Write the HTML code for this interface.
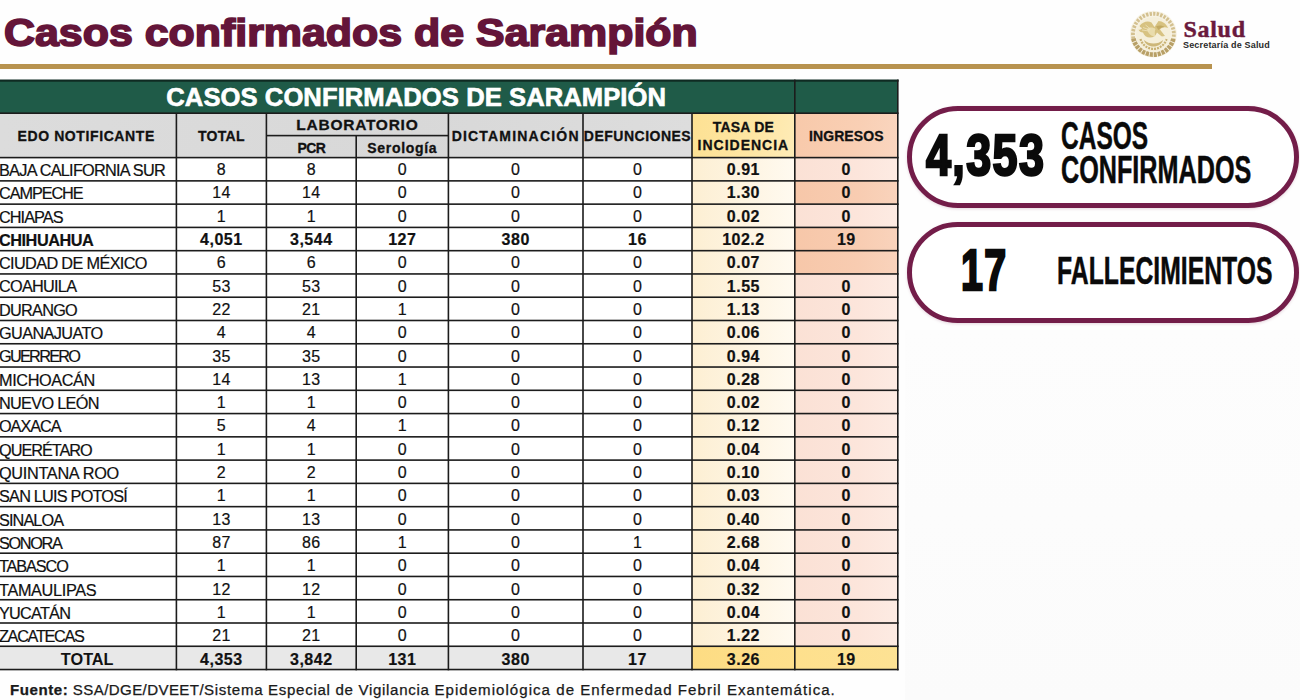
<!DOCTYPE html><html><head><meta charset="utf-8"><title>Casos confirmados de Sarampión</title><style>

html,body{margin:0;padding:0;}
body{width:1300px;height:700px;position:relative;overflow:hidden;background:#fefefe;font-family:"Liberation Sans",sans-serif;color:#111;}
.abs{position:absolute;}
.t{position:absolute;white-space:nowrap;line-height:1;}
.ln{position:absolute;background:#1c1c1c;}
.c{position:absolute;display:flex;align-items:center;justify-content:center;white-space:nowrap;line-height:1;}

</style></head><body>
<div class="abs" style="left:905px;top:330px;width:395px;height:370px;background:linear-gradient(180deg,#fdfdfd,#fbfbfb);"></div>
<div class="t" style="left:4px;top:12.5px;font-size:39px;font-weight:bold;color:#641539;letter-spacing:0px;transform-origin:0 0;transform:scaleX(1.1);-webkit-text-stroke:1.7px #641539;">Casos confirmados de Sarampión</div>
<div class="abs" style="left:0;top:64px;width:1212px;height:4.8px;background:#b8934f;"></div>
<svg class="abs" style="left:1128px;top:9px" width="52" height="52" viewBox="0 0 52 52">
<circle cx="25.4" cy="25.2" r="23.4" fill="#f7f2e3"/>
<path d="M5.400 29.500A20.460 20.460 0 1 1 45.400 29.500" fill="none" stroke="#d3c08f" stroke-width="3.800" stroke-dasharray="2.300 1.300"/>
<path d="M5.400 29.500A20.460 20.460 0 0 0 45.400 29.500" fill="none" stroke="#b8a067" stroke-width="4.600" stroke-dasharray="3.100 0.900"/>
<circle cx="25.400" cy="25.200" r="17.200" fill="#f5efda"/>
<path d="M12.500 30a13.500 13.500 0 0 0 26 0" fill="none" stroke="#c8b173" stroke-width="2.200" stroke-dasharray="2 1"/>
<path d="M11.500 17c3-4 8-5.500 12-3.500l3 4.500l4-6c4 0 8 3 9.500 7c-3-1.500-6-1-8 1.500l5 6.500l-3.500 0.500l-4.500-4c-1 3-3.500 5-7 5c-3.500 0-6-2-7-5c-2 0-4-1-4.500-3c1.500 0.500 3 0 3.500-1.500c-1.500-0.500-2.500-1.500-2.500-2.500z" fill="#d7c281"/>
<path d="M19 20c2.500-2 6-2 8.500 0c-1 2.500-1 5 0 7c-3.500 1-7.500-2-8.500-7z" fill="#e9dcac"/>
<path d="M28 17.500c2.500-1.500 6-1.500 8.500 0.500c-2.500 0-4.500 1-6 3z" fill="#c2a962"/>
<path d="M16 31c2.500 2.500 6 3.500 9.500 3.500s7-1 9.500-3.500c-1 4-5 6.500-9.500 6.500s-8.500-2.500-9.500-6.500z" fill="#cdb779"/>
<path d="M30.500 26l7 5.500" stroke="#f5efda" stroke-width="1.300"/>
<path d="M14 21l7 1M15 18.500l7 2.500M17.500 16l5 4" stroke="#f0e6c4" stroke-width="0.700" fill="none"/>
</svg>
<div class="t" style="left:1183.5px;top:17.3px;font-family:'Liberation Serif',serif;font-weight:bold;font-size:24px;color:#6a1a3d;letter-spacing:0.7px;-webkit-text-stroke:0.45px #6a1a3d;">Salud</div>
<div class="t" style="left:1183px;top:41.2px;font-weight:bold;font-size:9px;color:#2a2a2a;letter-spacing:0.18px;">Secretaría de Salud</div>
<div class="abs" style="left:0;top:80.6px;width:897.8px;height:32.60000000000001px;background:#1f5b48;"></div>
<div class="abs" style="left:0;top:113.2px;width:692px;height:44.39999999999999px;background:linear-gradient(90deg,#dcdcdc,#d8d8d8 60%,#dddddd);"></div>
<div class="abs" style="left:692px;top:113.2px;width:102.79999999999995px;height:44.39999999999999px;background:linear-gradient(100deg,#fde193 0%,#fee6a4 60%,#feecb8 100%);"></div>
<div class="abs" style="left:794.8px;top:113.2px;width:103.0px;height:44.39999999999999px;background:linear-gradient(100deg,#f8c9aa 0%,#f9cfb4 60%,#fad6c0 100%);"></div>
<div class="abs" style="left:0;top:157.6px;width:692px;height:488.66999999999996px;background:#fff;"></div>
<div class="abs" style="left:692px;top:157.6px;width:102.79999999999995px;height:488.66999999999996px;background:linear-gradient(90deg,#fdefd3 0%,#fef4e1 50%,#fffaf0 100%);"></div>
<div class="abs" style="left:794.8px;top:157.6px;width:103.0px;height:488.66999999999996px;background:linear-gradient(90deg,#fbe1d5 0%,#fce5db 60%,#fdebe3 100%);"></div>
<div class="abs" style="left:794.8px;top:180.87px;width:103.0px;height:23.27px;background:linear-gradient(90deg,#f7c7a9 0%,#f8ccb1 60%,#f9d3bc 100%);"></div>
<div class="abs" style="left:794.8px;top:227.41px;width:103.0px;height:23.27px;background:linear-gradient(90deg,#f7c7a9 0%,#f8ccb1 60%,#f9d3bc 100%);"></div>
<div class="abs" style="left:794.8px;top:250.68px;width:103.0px;height:23.27px;background:linear-gradient(90deg,#f7c7a9 0%,#f8ccb1 60%,#f9d3bc 100%);"></div>
<div class="abs" style="left:0;top:646.27px;width:692px;height:23.27px;background:#e8e8e8;"></div>
<div class="abs" style="left:692px;top:646.27px;width:205.79999999999995px;height:23.27px;background:linear-gradient(90deg,#fddc83,#fee08d 50%,#fde294);"></div>
<svg class="abs" style="left:0;top:0" width="1300" height="700" viewBox="0 0 1300 700"><rect x="0.00" y="79.50" width="898.60" height="2.2" fill="#0f2a22"/><rect x="0.00" y="112.40" width="898.60" height="1.6" fill="#1c1c1c"/><rect x="266.40" y="134.80" width="182.00" height="1.6" fill="#1c1c1c"/><rect x="0.00" y="156.80" width="898.60" height="1.6" fill="#1c1c1c"/><rect x="0.00" y="180.07" width="898.60" height="1.6" fill="#1c1c1c"/><rect x="0.00" y="203.34" width="898.60" height="1.6" fill="#1c1c1c"/><rect x="0.00" y="226.61" width="898.60" height="1.6" fill="#1c1c1c"/><rect x="0.00" y="249.88" width="898.60" height="1.6" fill="#1c1c1c"/><rect x="0.00" y="273.15" width="898.60" height="1.6" fill="#1c1c1c"/><rect x="0.00" y="296.42" width="898.60" height="1.6" fill="#1c1c1c"/><rect x="0.00" y="319.69" width="898.60" height="1.6" fill="#1c1c1c"/><rect x="0.00" y="342.96" width="898.60" height="1.6" fill="#1c1c1c"/><rect x="0.00" y="366.23" width="898.60" height="1.6" fill="#1c1c1c"/><rect x="0.00" y="389.50" width="898.60" height="1.6" fill="#1c1c1c"/><rect x="0.00" y="412.77" width="898.60" height="1.6" fill="#1c1c1c"/><rect x="0.00" y="436.04" width="898.60" height="1.6" fill="#1c1c1c"/><rect x="0.00" y="459.31" width="898.60" height="1.6" fill="#1c1c1c"/><rect x="0.00" y="482.58" width="898.60" height="1.6" fill="#1c1c1c"/><rect x="0.00" y="505.85" width="898.60" height="1.6" fill="#1c1c1c"/><rect x="0.00" y="529.12" width="898.60" height="1.6" fill="#1c1c1c"/><rect x="0.00" y="552.39" width="898.60" height="1.6" fill="#1c1c1c"/><rect x="0.00" y="575.66" width="898.60" height="1.6" fill="#1c1c1c"/><rect x="0.00" y="598.93" width="898.60" height="1.6" fill="#1c1c1c"/><rect x="0.00" y="622.20" width="898.60" height="1.6" fill="#1c1c1c"/><rect x="0.00" y="645.47" width="898.60" height="1.6" fill="#1c1c1c"/><rect x="0.00" y="668.74" width="898.60" height="1.6" fill="#1c1c1c"/><rect x="175.60" y="113.20" width="1.6" height="557.14" fill="#1c1c1c"/><rect x="265.60" y="113.20" width="1.6" height="557.14" fill="#1c1c1c"/><rect x="355.40" y="135.60" width="1.6" height="534.74" fill="#1c1c1c"/><rect x="447.60" y="113.20" width="1.6" height="557.14" fill="#1c1c1c"/><rect x="582.20" y="113.20" width="1.6" height="557.14" fill="#1c1c1c"/><rect x="691.20" y="113.20" width="1.6" height="557.14" fill="#1c1c1c"/><rect x="794.00" y="79.60" width="1.6" height="590.74" fill="#1c1c1c"/><rect x="897.00" y="79.60" width="1.6" height="590.74" fill="#1c1c1c"/></svg>
<div class="c" style="left:0.00px;top:81.60px;width:794.80px;height:32.60px;font-size:25.6px;font-weight:bold;letter-spacing:0.07px;color:#fff;padding-left:37.6px;box-sizing:border-box;-webkit-text-stroke:0.65px #fff;">CASOS CONFIRMADOS DE SARAMPIÓN</div>
<div class="c" style="left:0.00px;top:113.50px;width:176.40px;height:44.40px;font-size:14px;font-weight:bold;letter-spacing:0.6px;color:#111;transform:translateX(-2px);-webkit-text-stroke:0.3px #111;">EDO NOTIFICANTE</div>
<div class="c" style="left:176.40px;top:113.50px;width:90.00px;height:44.40px;font-size:14px;font-weight:bold;letter-spacing:0.3px;color:#111;-webkit-text-stroke:0.3px #111;">TOTAL</div>
<div class="c" style="left:266.40px;top:113.20px;width:182.00px;height:22.40px;font-size:15.5px;font-weight:bold;letter-spacing:0.75px;color:#111;-webkit-text-stroke:0.3px #111;">LABORATORIO</div>
<div class="c" style="left:266.40px;top:137.40px;width:89.80px;height:22.00px;font-size:14px;font-weight:bold;letter-spacing:-0.6px;color:#111;-webkit-text-stroke:0.3px #111;">PCR</div>
<div class="c" style="left:356.20px;top:137.40px;width:92.20px;height:22.00px;font-size:14px;font-weight:bold;letter-spacing:0.7px;color:#111;-webkit-text-stroke:0.3px #111;">Serología</div>
<div class="c" style="left:448.40px;top:113.50px;width:134.60px;height:44.40px;font-size:14px;font-weight:bold;letter-spacing:1.2px;color:#111;-webkit-text-stroke:0.3px #111;">DICTAMINACIÓN</div>
<div class="c" style="left:583.00px;top:113.50px;width:109.00px;height:44.40px;font-size:14px;font-weight:bold;letter-spacing:0.5px;color:#111;-webkit-text-stroke:0.3px #111;">DEFUNCIONES</div>
<div class="c" style="left:692.00px;top:115.70px;width:102.80px;height:22.20px;font-size:14px;font-weight:bold;letter-spacing:0.2px;color:#111;-webkit-text-stroke:0.3px #111;">TASA DE</div>
<div class="c" style="left:692.00px;top:133.90px;width:102.80px;height:22.20px;font-size:14px;font-weight:bold;letter-spacing:1.0px;color:#111;-webkit-text-stroke:0.3px #111;">INCIDENCIA</div>
<div class="c" style="left:794.80px;top:113.50px;width:103.00px;height:44.40px;font-size:14px;font-weight:bold;letter-spacing:0.1px;color:#111;-webkit-text-stroke:0.3px #111;">INGRESOS</div>
<div class="c" style="left:-1px;top:158.40px;height:23.27px;justify-content:flex-start;font-size:16.3px;letter-spacing:-0.739px;-webkit-text-stroke:0.2px #111;">BAJA CALIFORNIA SUR</div>
<div class="c" style="left:176.40px;top:158.40px;width:90.00px;height:23.27px;font-size:16px;letter-spacing:0.3px;color:#111;-webkit-text-stroke:0.2px #111;">8</div>
<div class="c" style="left:266.40px;top:158.40px;width:89.80px;height:23.27px;font-size:16px;letter-spacing:0.3px;color:#111;-webkit-text-stroke:0.2px #111;">8</div>
<div class="c" style="left:356.20px;top:158.40px;width:92.20px;height:23.27px;font-size:16px;letter-spacing:0.3px;color:#111;-webkit-text-stroke:0.2px #111;">0</div>
<div class="c" style="left:448.40px;top:158.40px;width:134.60px;height:23.27px;font-size:16px;letter-spacing:0.3px;color:#111;-webkit-text-stroke:0.2px #111;">0</div>
<div class="c" style="left:583.00px;top:158.40px;width:109.00px;height:23.27px;font-size:16px;letter-spacing:0.3px;color:#111;-webkit-text-stroke:0.2px #111;">0</div>
<div class="c" style="left:692.00px;top:158.40px;width:102.80px;height:23.27px;font-size:16px;font-weight:bold;letter-spacing:0.5px;color:#111;-webkit-text-stroke:0.2px #111;">0.91</div>
<div class="c" style="left:794.80px;top:158.40px;width:103.00px;height:23.27px;font-size:16px;font-weight:bold;letter-spacing:0.5px;color:#111;-webkit-text-stroke:0.2px #111;">0</div>
<div class="c" style="left:-1px;top:181.72px;height:23.27px;justify-content:flex-start;font-size:16.3px;letter-spacing:-1.092px;-webkit-text-stroke:0.2px #111;">CAMPECHE</div>
<div class="c" style="left:176.40px;top:181.72px;width:90.00px;height:23.27px;font-size:16px;letter-spacing:0.3px;color:#111;-webkit-text-stroke:0.2px #111;">14</div>
<div class="c" style="left:266.40px;top:181.72px;width:89.80px;height:23.27px;font-size:16px;letter-spacing:0.3px;color:#111;-webkit-text-stroke:0.2px #111;">14</div>
<div class="c" style="left:356.20px;top:181.72px;width:92.20px;height:23.27px;font-size:16px;letter-spacing:0.3px;color:#111;-webkit-text-stroke:0.2px #111;">0</div>
<div class="c" style="left:448.40px;top:181.72px;width:134.60px;height:23.27px;font-size:16px;letter-spacing:0.3px;color:#111;-webkit-text-stroke:0.2px #111;">0</div>
<div class="c" style="left:583.00px;top:181.72px;width:109.00px;height:23.27px;font-size:16px;letter-spacing:0.3px;color:#111;-webkit-text-stroke:0.2px #111;">0</div>
<div class="c" style="left:692.00px;top:181.72px;width:102.80px;height:23.27px;font-size:16px;font-weight:bold;letter-spacing:0.5px;color:#111;-webkit-text-stroke:0.2px #111;">1.30</div>
<div class="c" style="left:794.80px;top:181.72px;width:103.00px;height:23.27px;font-size:16px;font-weight:bold;letter-spacing:0.5px;color:#111;-webkit-text-stroke:0.2px #111;">0</div>
<div class="c" style="left:-1px;top:205.03px;height:23.27px;justify-content:flex-start;font-size:16.3px;letter-spacing:-0.95px;-webkit-text-stroke:0.2px #111;">CHIAPAS</div>
<div class="c" style="left:176.40px;top:205.03px;width:90.00px;height:23.27px;font-size:16px;letter-spacing:0.3px;color:#111;-webkit-text-stroke:0.2px #111;">1</div>
<div class="c" style="left:266.40px;top:205.03px;width:89.80px;height:23.27px;font-size:16px;letter-spacing:0.3px;color:#111;-webkit-text-stroke:0.2px #111;">1</div>
<div class="c" style="left:356.20px;top:205.03px;width:92.20px;height:23.27px;font-size:16px;letter-spacing:0.3px;color:#111;-webkit-text-stroke:0.2px #111;">0</div>
<div class="c" style="left:448.40px;top:205.03px;width:134.60px;height:23.27px;font-size:16px;letter-spacing:0.3px;color:#111;-webkit-text-stroke:0.2px #111;">0</div>
<div class="c" style="left:583.00px;top:205.03px;width:109.00px;height:23.27px;font-size:16px;letter-spacing:0.3px;color:#111;-webkit-text-stroke:0.2px #111;">0</div>
<div class="c" style="left:692.00px;top:205.03px;width:102.80px;height:23.27px;font-size:16px;font-weight:bold;letter-spacing:0.5px;color:#111;-webkit-text-stroke:0.2px #111;">0.02</div>
<div class="c" style="left:794.80px;top:205.03px;width:103.00px;height:23.27px;font-size:16px;font-weight:bold;letter-spacing:0.5px;color:#111;-webkit-text-stroke:0.2px #111;">0</div>
<div class="c" style="left:-1px;top:228.34px;height:23.27px;justify-content:flex-start;font-size:16.3px;font-weight:bold;letter-spacing:-0.475px;-webkit-text-stroke:0.2px #111;">CHIHUAHUA</div>
<div class="c" style="left:176.40px;top:228.34px;width:90.00px;height:23.27px;font-size:16px;font-weight:bold;letter-spacing:0.5px;color:#111;-webkit-text-stroke:0.2px #111;">4,051</div>
<div class="c" style="left:266.40px;top:228.34px;width:89.80px;height:23.27px;font-size:16px;font-weight:bold;letter-spacing:0.5px;color:#111;-webkit-text-stroke:0.2px #111;">3,544</div>
<div class="c" style="left:356.20px;top:228.34px;width:92.20px;height:23.27px;font-size:16px;font-weight:bold;letter-spacing:0.5px;color:#111;-webkit-text-stroke:0.2px #111;">127</div>
<div class="c" style="left:448.40px;top:228.34px;width:134.60px;height:23.27px;font-size:16px;font-weight:bold;letter-spacing:0.5px;color:#111;-webkit-text-stroke:0.2px #111;">380</div>
<div class="c" style="left:583.00px;top:228.34px;width:109.00px;height:23.27px;font-size:16px;font-weight:bold;letter-spacing:0.5px;color:#111;-webkit-text-stroke:0.2px #111;">16</div>
<div class="c" style="left:692.00px;top:228.34px;width:102.80px;height:23.27px;font-size:16px;font-weight:bold;letter-spacing:0.5px;color:#111;-webkit-text-stroke:0.2px #111;">102.2</div>
<div class="c" style="left:794.80px;top:228.34px;width:103.00px;height:23.27px;font-size:16px;font-weight:bold;letter-spacing:0.5px;color:#111;-webkit-text-stroke:0.2px #111;">19</div>
<div class="c" style="left:-1px;top:251.66px;height:23.27px;justify-content:flex-start;font-size:16.3px;letter-spacing:-0.656px;-webkit-text-stroke:0.2px #111;">CIUDAD DE MÉXICO</div>
<div class="c" style="left:176.40px;top:251.66px;width:90.00px;height:23.27px;font-size:16px;letter-spacing:0.3px;color:#111;-webkit-text-stroke:0.2px #111;">6</div>
<div class="c" style="left:266.40px;top:251.66px;width:89.80px;height:23.27px;font-size:16px;letter-spacing:0.3px;color:#111;-webkit-text-stroke:0.2px #111;">6</div>
<div class="c" style="left:356.20px;top:251.66px;width:92.20px;height:23.27px;font-size:16px;letter-spacing:0.3px;color:#111;-webkit-text-stroke:0.2px #111;">0</div>
<div class="c" style="left:448.40px;top:251.66px;width:134.60px;height:23.27px;font-size:16px;letter-spacing:0.3px;color:#111;-webkit-text-stroke:0.2px #111;">0</div>
<div class="c" style="left:583.00px;top:251.66px;width:109.00px;height:23.27px;font-size:16px;letter-spacing:0.3px;color:#111;-webkit-text-stroke:0.2px #111;">0</div>
<div class="c" style="left:692.00px;top:251.66px;width:102.80px;height:23.27px;font-size:16px;font-weight:bold;letter-spacing:0.5px;color:#111;-webkit-text-stroke:0.2px #111;">0.07</div>
<div class="c" style="left:-1px;top:274.97px;height:23.27px;justify-content:flex-start;font-size:16.3px;letter-spacing:-0.75px;-webkit-text-stroke:0.2px #111;">COAHUILA</div>
<div class="c" style="left:176.40px;top:274.97px;width:90.00px;height:23.27px;font-size:16px;letter-spacing:0.3px;color:#111;-webkit-text-stroke:0.2px #111;">53</div>
<div class="c" style="left:266.40px;top:274.97px;width:89.80px;height:23.27px;font-size:16px;letter-spacing:0.3px;color:#111;-webkit-text-stroke:0.2px #111;">53</div>
<div class="c" style="left:356.20px;top:274.97px;width:92.20px;height:23.27px;font-size:16px;letter-spacing:0.3px;color:#111;-webkit-text-stroke:0.2px #111;">0</div>
<div class="c" style="left:448.40px;top:274.97px;width:134.60px;height:23.27px;font-size:16px;letter-spacing:0.3px;color:#111;-webkit-text-stroke:0.2px #111;">0</div>
<div class="c" style="left:583.00px;top:274.97px;width:109.00px;height:23.27px;font-size:16px;letter-spacing:0.3px;color:#111;-webkit-text-stroke:0.2px #111;">0</div>
<div class="c" style="left:692.00px;top:274.97px;width:102.80px;height:23.27px;font-size:16px;font-weight:bold;letter-spacing:0.5px;color:#111;-webkit-text-stroke:0.2px #111;">1.55</div>
<div class="c" style="left:794.80px;top:274.97px;width:103.00px;height:23.27px;font-size:16px;font-weight:bold;letter-spacing:0.5px;color:#111;-webkit-text-stroke:0.2px #111;">0</div>
<div class="c" style="left:-1px;top:298.29px;height:23.27px;justify-content:flex-start;font-size:16.3px;letter-spacing:-0.75px;-webkit-text-stroke:0.2px #111;">DURANGO</div>
<div class="c" style="left:176.40px;top:298.29px;width:90.00px;height:23.27px;font-size:16px;letter-spacing:0.3px;color:#111;-webkit-text-stroke:0.2px #111;">22</div>
<div class="c" style="left:266.40px;top:298.29px;width:89.80px;height:23.27px;font-size:16px;letter-spacing:0.3px;color:#111;-webkit-text-stroke:0.2px #111;">21</div>
<div class="c" style="left:356.20px;top:298.29px;width:92.20px;height:23.27px;font-size:16px;letter-spacing:0.3px;color:#111;-webkit-text-stroke:0.2px #111;">1</div>
<div class="c" style="left:448.40px;top:298.29px;width:134.60px;height:23.27px;font-size:16px;letter-spacing:0.3px;color:#111;-webkit-text-stroke:0.2px #111;">0</div>
<div class="c" style="left:583.00px;top:298.29px;width:109.00px;height:23.27px;font-size:16px;letter-spacing:0.3px;color:#111;-webkit-text-stroke:0.2px #111;">0</div>
<div class="c" style="left:692.00px;top:298.29px;width:102.80px;height:23.27px;font-size:16px;font-weight:bold;letter-spacing:0.5px;color:#111;-webkit-text-stroke:0.2px #111;">1.13</div>
<div class="c" style="left:794.80px;top:298.29px;width:103.00px;height:23.27px;font-size:16px;font-weight:bold;letter-spacing:0.5px;color:#111;-webkit-text-stroke:0.2px #111;">0</div>
<div class="c" style="left:-1px;top:321.61px;height:23.27px;justify-content:flex-start;font-size:16.3px;letter-spacing:-0.616px;-webkit-text-stroke:0.2px #111;">GUANAJUATO</div>
<div class="c" style="left:176.40px;top:321.61px;width:90.00px;height:23.27px;font-size:16px;letter-spacing:0.3px;color:#111;-webkit-text-stroke:0.2px #111;">4</div>
<div class="c" style="left:266.40px;top:321.61px;width:89.80px;height:23.27px;font-size:16px;letter-spacing:0.3px;color:#111;-webkit-text-stroke:0.2px #111;">4</div>
<div class="c" style="left:356.20px;top:321.61px;width:92.20px;height:23.27px;font-size:16px;letter-spacing:0.3px;color:#111;-webkit-text-stroke:0.2px #111;">0</div>
<div class="c" style="left:448.40px;top:321.61px;width:134.60px;height:23.27px;font-size:16px;letter-spacing:0.3px;color:#111;-webkit-text-stroke:0.2px #111;">0</div>
<div class="c" style="left:583.00px;top:321.61px;width:109.00px;height:23.27px;font-size:16px;letter-spacing:0.3px;color:#111;-webkit-text-stroke:0.2px #111;">0</div>
<div class="c" style="left:692.00px;top:321.61px;width:102.80px;height:23.27px;font-size:16px;font-weight:bold;letter-spacing:0.5px;color:#111;-webkit-text-stroke:0.2px #111;">0.06</div>
<div class="c" style="left:794.80px;top:321.61px;width:103.00px;height:23.27px;font-size:16px;font-weight:bold;letter-spacing:0.5px;color:#111;-webkit-text-stroke:0.2px #111;">0</div>
<div class="c" style="left:-1px;top:344.92px;height:23.27px;justify-content:flex-start;font-size:16.3px;letter-spacing:-1.721px;-webkit-text-stroke:0.2px #111;">GUERRERO</div>
<div class="c" style="left:176.40px;top:344.92px;width:90.00px;height:23.27px;font-size:16px;letter-spacing:0.3px;color:#111;-webkit-text-stroke:0.2px #111;">35</div>
<div class="c" style="left:266.40px;top:344.92px;width:89.80px;height:23.27px;font-size:16px;letter-spacing:0.3px;color:#111;-webkit-text-stroke:0.2px #111;">35</div>
<div class="c" style="left:356.20px;top:344.92px;width:92.20px;height:23.27px;font-size:16px;letter-spacing:0.3px;color:#111;-webkit-text-stroke:0.2px #111;">0</div>
<div class="c" style="left:448.40px;top:344.92px;width:134.60px;height:23.27px;font-size:16px;letter-spacing:0.3px;color:#111;-webkit-text-stroke:0.2px #111;">0</div>
<div class="c" style="left:583.00px;top:344.92px;width:109.00px;height:23.27px;font-size:16px;letter-spacing:0.3px;color:#111;-webkit-text-stroke:0.2px #111;">0</div>
<div class="c" style="left:692.00px;top:344.92px;width:102.80px;height:23.27px;font-size:16px;font-weight:bold;letter-spacing:0.5px;color:#111;-webkit-text-stroke:0.2px #111;">0.94</div>
<div class="c" style="left:794.80px;top:344.92px;width:103.00px;height:23.27px;font-size:16px;font-weight:bold;letter-spacing:0.5px;color:#111;-webkit-text-stroke:0.2px #111;">0</div>
<div class="c" style="left:-1px;top:368.23px;height:23.27px;justify-content:flex-start;font-size:16.3px;letter-spacing:-0.4px;-webkit-text-stroke:0.2px #111;">MICHOACÁN</div>
<div class="c" style="left:176.40px;top:368.23px;width:90.00px;height:23.27px;font-size:16px;letter-spacing:0.3px;color:#111;-webkit-text-stroke:0.2px #111;">14</div>
<div class="c" style="left:266.40px;top:368.23px;width:89.80px;height:23.27px;font-size:16px;letter-spacing:0.3px;color:#111;-webkit-text-stroke:0.2px #111;">13</div>
<div class="c" style="left:356.20px;top:368.23px;width:92.20px;height:23.27px;font-size:16px;letter-spacing:0.3px;color:#111;-webkit-text-stroke:0.2px #111;">1</div>
<div class="c" style="left:448.40px;top:368.23px;width:134.60px;height:23.27px;font-size:16px;letter-spacing:0.3px;color:#111;-webkit-text-stroke:0.2px #111;">0</div>
<div class="c" style="left:583.00px;top:368.23px;width:109.00px;height:23.27px;font-size:16px;letter-spacing:0.3px;color:#111;-webkit-text-stroke:0.2px #111;">0</div>
<div class="c" style="left:692.00px;top:368.23px;width:102.80px;height:23.27px;font-size:16px;font-weight:bold;letter-spacing:0.5px;color:#111;-webkit-text-stroke:0.2px #111;">0.28</div>
<div class="c" style="left:794.80px;top:368.23px;width:103.00px;height:23.27px;font-size:16px;font-weight:bold;letter-spacing:0.5px;color:#111;-webkit-text-stroke:0.2px #111;">0</div>
<div class="c" style="left:-1px;top:391.55px;height:23.27px;justify-content:flex-start;font-size:16.3px;letter-spacing:-0.704px;-webkit-text-stroke:0.2px #111;">NUEVO LEÓN</div>
<div class="c" style="left:176.40px;top:391.55px;width:90.00px;height:23.27px;font-size:16px;letter-spacing:0.3px;color:#111;-webkit-text-stroke:0.2px #111;">1</div>
<div class="c" style="left:266.40px;top:391.55px;width:89.80px;height:23.27px;font-size:16px;letter-spacing:0.3px;color:#111;-webkit-text-stroke:0.2px #111;">1</div>
<div class="c" style="left:356.20px;top:391.55px;width:92.20px;height:23.27px;font-size:16px;letter-spacing:0.3px;color:#111;-webkit-text-stroke:0.2px #111;">0</div>
<div class="c" style="left:448.40px;top:391.55px;width:134.60px;height:23.27px;font-size:16px;letter-spacing:0.3px;color:#111;-webkit-text-stroke:0.2px #111;">0</div>
<div class="c" style="left:583.00px;top:391.55px;width:109.00px;height:23.27px;font-size:16px;letter-spacing:0.3px;color:#111;-webkit-text-stroke:0.2px #111;">0</div>
<div class="c" style="left:692.00px;top:391.55px;width:102.80px;height:23.27px;font-size:16px;font-weight:bold;letter-spacing:0.5px;color:#111;-webkit-text-stroke:0.2px #111;">0.02</div>
<div class="c" style="left:794.80px;top:391.55px;width:103.00px;height:23.27px;font-size:16px;font-weight:bold;letter-spacing:0.5px;color:#111;-webkit-text-stroke:0.2px #111;">0</div>
<div class="c" style="left:-1px;top:414.87px;height:23.27px;justify-content:flex-start;font-size:16.3px;letter-spacing:-1.07px;-webkit-text-stroke:0.2px #111;">OAXACA</div>
<div class="c" style="left:176.40px;top:414.87px;width:90.00px;height:23.27px;font-size:16px;letter-spacing:0.3px;color:#111;-webkit-text-stroke:0.2px #111;">5</div>
<div class="c" style="left:266.40px;top:414.87px;width:89.80px;height:23.27px;font-size:16px;letter-spacing:0.3px;color:#111;-webkit-text-stroke:0.2px #111;">4</div>
<div class="c" style="left:356.20px;top:414.87px;width:92.20px;height:23.27px;font-size:16px;letter-spacing:0.3px;color:#111;-webkit-text-stroke:0.2px #111;">1</div>
<div class="c" style="left:448.40px;top:414.87px;width:134.60px;height:23.27px;font-size:16px;letter-spacing:0.3px;color:#111;-webkit-text-stroke:0.2px #111;">0</div>
<div class="c" style="left:583.00px;top:414.87px;width:109.00px;height:23.27px;font-size:16px;letter-spacing:0.3px;color:#111;-webkit-text-stroke:0.2px #111;">0</div>
<div class="c" style="left:692.00px;top:414.87px;width:102.80px;height:23.27px;font-size:16px;font-weight:bold;letter-spacing:0.5px;color:#111;-webkit-text-stroke:0.2px #111;">0.12</div>
<div class="c" style="left:794.80px;top:414.87px;width:103.00px;height:23.27px;font-size:16px;font-weight:bold;letter-spacing:0.5px;color:#111;-webkit-text-stroke:0.2px #111;">0</div>
<div class="c" style="left:-1px;top:438.18px;height:23.27px;justify-content:flex-start;font-size:16.3px;letter-spacing:-1.023px;-webkit-text-stroke:0.2px #111;">QUERÉTARO</div>
<div class="c" style="left:176.40px;top:438.18px;width:90.00px;height:23.27px;font-size:16px;letter-spacing:0.3px;color:#111;-webkit-text-stroke:0.2px #111;">1</div>
<div class="c" style="left:266.40px;top:438.18px;width:89.80px;height:23.27px;font-size:16px;letter-spacing:0.3px;color:#111;-webkit-text-stroke:0.2px #111;">1</div>
<div class="c" style="left:356.20px;top:438.18px;width:92.20px;height:23.27px;font-size:16px;letter-spacing:0.3px;color:#111;-webkit-text-stroke:0.2px #111;">0</div>
<div class="c" style="left:448.40px;top:438.18px;width:134.60px;height:23.27px;font-size:16px;letter-spacing:0.3px;color:#111;-webkit-text-stroke:0.2px #111;">0</div>
<div class="c" style="left:583.00px;top:438.18px;width:109.00px;height:23.27px;font-size:16px;letter-spacing:0.3px;color:#111;-webkit-text-stroke:0.2px #111;">0</div>
<div class="c" style="left:692.00px;top:438.18px;width:102.80px;height:23.27px;font-size:16px;font-weight:bold;letter-spacing:0.5px;color:#111;-webkit-text-stroke:0.2px #111;">0.04</div>
<div class="c" style="left:794.80px;top:438.18px;width:103.00px;height:23.27px;font-size:16px;font-weight:bold;letter-spacing:0.5px;color:#111;-webkit-text-stroke:0.2px #111;">0</div>
<div class="c" style="left:-1px;top:461.50px;height:23.27px;justify-content:flex-start;font-size:16.3px;letter-spacing:-0.313px;-webkit-text-stroke:0.2px #111;">QUINTANA ROO</div>
<div class="c" style="left:176.40px;top:461.50px;width:90.00px;height:23.27px;font-size:16px;letter-spacing:0.3px;color:#111;-webkit-text-stroke:0.2px #111;">2</div>
<div class="c" style="left:266.40px;top:461.50px;width:89.80px;height:23.27px;font-size:16px;letter-spacing:0.3px;color:#111;-webkit-text-stroke:0.2px #111;">2</div>
<div class="c" style="left:356.20px;top:461.50px;width:92.20px;height:23.27px;font-size:16px;letter-spacing:0.3px;color:#111;-webkit-text-stroke:0.2px #111;">0</div>
<div class="c" style="left:448.40px;top:461.50px;width:134.60px;height:23.27px;font-size:16px;letter-spacing:0.3px;color:#111;-webkit-text-stroke:0.2px #111;">0</div>
<div class="c" style="left:583.00px;top:461.50px;width:109.00px;height:23.27px;font-size:16px;letter-spacing:0.3px;color:#111;-webkit-text-stroke:0.2px #111;">0</div>
<div class="c" style="left:692.00px;top:461.50px;width:102.80px;height:23.27px;font-size:16px;font-weight:bold;letter-spacing:0.5px;color:#111;-webkit-text-stroke:0.2px #111;">0.10</div>
<div class="c" style="left:794.80px;top:461.50px;width:103.00px;height:23.27px;font-size:16px;font-weight:bold;letter-spacing:0.5px;color:#111;-webkit-text-stroke:0.2px #111;">0</div>
<div class="c" style="left:-1px;top:484.81px;height:23.27px;justify-content:flex-start;font-size:16.3px;letter-spacing:-0.794px;-webkit-text-stroke:0.2px #111;">SAN LUIS POTOSÍ</div>
<div class="c" style="left:176.40px;top:484.81px;width:90.00px;height:23.27px;font-size:16px;letter-spacing:0.3px;color:#111;-webkit-text-stroke:0.2px #111;">1</div>
<div class="c" style="left:266.40px;top:484.81px;width:89.80px;height:23.27px;font-size:16px;letter-spacing:0.3px;color:#111;-webkit-text-stroke:0.2px #111;">1</div>
<div class="c" style="left:356.20px;top:484.81px;width:92.20px;height:23.27px;font-size:16px;letter-spacing:0.3px;color:#111;-webkit-text-stroke:0.2px #111;">0</div>
<div class="c" style="left:448.40px;top:484.81px;width:134.60px;height:23.27px;font-size:16px;letter-spacing:0.3px;color:#111;-webkit-text-stroke:0.2px #111;">0</div>
<div class="c" style="left:583.00px;top:484.81px;width:109.00px;height:23.27px;font-size:16px;letter-spacing:0.3px;color:#111;-webkit-text-stroke:0.2px #111;">0</div>
<div class="c" style="left:692.00px;top:484.81px;width:102.80px;height:23.27px;font-size:16px;font-weight:bold;letter-spacing:0.5px;color:#111;-webkit-text-stroke:0.2px #111;">0.03</div>
<div class="c" style="left:794.80px;top:484.81px;width:103.00px;height:23.27px;font-size:16px;font-weight:bold;letter-spacing:0.5px;color:#111;-webkit-text-stroke:0.2px #111;">0</div>
<div class="c" style="left:-1px;top:508.12px;height:23.27px;justify-content:flex-start;font-size:16.3px;letter-spacing:-0.917px;-webkit-text-stroke:0.2px #111;">SINALOA</div>
<div class="c" style="left:176.40px;top:508.12px;width:90.00px;height:23.27px;font-size:16px;letter-spacing:0.3px;color:#111;-webkit-text-stroke:0.2px #111;">13</div>
<div class="c" style="left:266.40px;top:508.12px;width:89.80px;height:23.27px;font-size:16px;letter-spacing:0.3px;color:#111;-webkit-text-stroke:0.2px #111;">13</div>
<div class="c" style="left:356.20px;top:508.12px;width:92.20px;height:23.27px;font-size:16px;letter-spacing:0.3px;color:#111;-webkit-text-stroke:0.2px #111;">0</div>
<div class="c" style="left:448.40px;top:508.12px;width:134.60px;height:23.27px;font-size:16px;letter-spacing:0.3px;color:#111;-webkit-text-stroke:0.2px #111;">0</div>
<div class="c" style="left:583.00px;top:508.12px;width:109.00px;height:23.27px;font-size:16px;letter-spacing:0.3px;color:#111;-webkit-text-stroke:0.2px #111;">0</div>
<div class="c" style="left:692.00px;top:508.12px;width:102.80px;height:23.27px;font-size:16px;font-weight:bold;letter-spacing:0.5px;color:#111;-webkit-text-stroke:0.2px #111;">0.40</div>
<div class="c" style="left:794.80px;top:508.12px;width:103.00px;height:23.27px;font-size:16px;font-weight:bold;letter-spacing:0.5px;color:#111;-webkit-text-stroke:0.2px #111;">0</div>
<div class="c" style="left:-1px;top:531.44px;height:23.27px;justify-content:flex-start;font-size:16.3px;letter-spacing:-1.35px;-webkit-text-stroke:0.2px #111;">SONORA</div>
<div class="c" style="left:176.40px;top:531.44px;width:90.00px;height:23.27px;font-size:16px;letter-spacing:0.3px;color:#111;-webkit-text-stroke:0.2px #111;">87</div>
<div class="c" style="left:266.40px;top:531.44px;width:89.80px;height:23.27px;font-size:16px;letter-spacing:0.3px;color:#111;-webkit-text-stroke:0.2px #111;">86</div>
<div class="c" style="left:356.20px;top:531.44px;width:92.20px;height:23.27px;font-size:16px;letter-spacing:0.3px;color:#111;-webkit-text-stroke:0.2px #111;">1</div>
<div class="c" style="left:448.40px;top:531.44px;width:134.60px;height:23.27px;font-size:16px;letter-spacing:0.3px;color:#111;-webkit-text-stroke:0.2px #111;">0</div>
<div class="c" style="left:583.00px;top:531.44px;width:109.00px;height:23.27px;font-size:16px;letter-spacing:0.3px;color:#111;-webkit-text-stroke:0.2px #111;">1</div>
<div class="c" style="left:692.00px;top:531.44px;width:102.80px;height:23.27px;font-size:16px;font-weight:bold;letter-spacing:0.5px;color:#111;-webkit-text-stroke:0.2px #111;">2.68</div>
<div class="c" style="left:794.80px;top:531.44px;width:103.00px;height:23.27px;font-size:16px;font-weight:bold;letter-spacing:0.5px;color:#111;-webkit-text-stroke:0.2px #111;">0</div>
<div class="c" style="left:-1px;top:554.75px;height:23.27px;justify-content:flex-start;font-size:16.3px;letter-spacing:-1.117px;-webkit-text-stroke:0.2px #111;">TABASCO</div>
<div class="c" style="left:176.40px;top:554.75px;width:90.00px;height:23.27px;font-size:16px;letter-spacing:0.3px;color:#111;-webkit-text-stroke:0.2px #111;">1</div>
<div class="c" style="left:266.40px;top:554.75px;width:89.80px;height:23.27px;font-size:16px;letter-spacing:0.3px;color:#111;-webkit-text-stroke:0.2px #111;">1</div>
<div class="c" style="left:356.20px;top:554.75px;width:92.20px;height:23.27px;font-size:16px;letter-spacing:0.3px;color:#111;-webkit-text-stroke:0.2px #111;">0</div>
<div class="c" style="left:448.40px;top:554.75px;width:134.60px;height:23.27px;font-size:16px;letter-spacing:0.3px;color:#111;-webkit-text-stroke:0.2px #111;">0</div>
<div class="c" style="left:583.00px;top:554.75px;width:109.00px;height:23.27px;font-size:16px;letter-spacing:0.3px;color:#111;-webkit-text-stroke:0.2px #111;">0</div>
<div class="c" style="left:692.00px;top:554.75px;width:102.80px;height:23.27px;font-size:16px;font-weight:bold;letter-spacing:0.5px;color:#111;-webkit-text-stroke:0.2px #111;">0.04</div>
<div class="c" style="left:794.80px;top:554.75px;width:103.00px;height:23.27px;font-size:16px;font-weight:bold;letter-spacing:0.5px;color:#111;-webkit-text-stroke:0.2px #111;">0</div>
<div class="c" style="left:-1px;top:578.07px;height:23.27px;justify-content:flex-start;font-size:16.3px;letter-spacing:-0.35px;-webkit-text-stroke:0.2px #111;">TAMAULIPAS</div>
<div class="c" style="left:176.40px;top:578.07px;width:90.00px;height:23.27px;font-size:16px;letter-spacing:0.3px;color:#111;-webkit-text-stroke:0.2px #111;">12</div>
<div class="c" style="left:266.40px;top:578.07px;width:89.80px;height:23.27px;font-size:16px;letter-spacing:0.3px;color:#111;-webkit-text-stroke:0.2px #111;">12</div>
<div class="c" style="left:356.20px;top:578.07px;width:92.20px;height:23.27px;font-size:16px;letter-spacing:0.3px;color:#111;-webkit-text-stroke:0.2px #111;">0</div>
<div class="c" style="left:448.40px;top:578.07px;width:134.60px;height:23.27px;font-size:16px;letter-spacing:0.3px;color:#111;-webkit-text-stroke:0.2px #111;">0</div>
<div class="c" style="left:583.00px;top:578.07px;width:109.00px;height:23.27px;font-size:16px;letter-spacing:0.3px;color:#111;-webkit-text-stroke:0.2px #111;">0</div>
<div class="c" style="left:692.00px;top:578.07px;width:102.80px;height:23.27px;font-size:16px;font-weight:bold;letter-spacing:0.5px;color:#111;-webkit-text-stroke:0.2px #111;">0.32</div>
<div class="c" style="left:794.80px;top:578.07px;width:103.00px;height:23.27px;font-size:16px;font-weight:bold;letter-spacing:0.5px;color:#111;-webkit-text-stroke:0.2px #111;">0</div>
<div class="c" style="left:-1px;top:601.38px;height:23.27px;justify-content:flex-start;font-size:16.3px;letter-spacing:-0.784px;-webkit-text-stroke:0.2px #111;">YUCATÁN</div>
<div class="c" style="left:176.40px;top:601.38px;width:90.00px;height:23.27px;font-size:16px;letter-spacing:0.3px;color:#111;-webkit-text-stroke:0.2px #111;">1</div>
<div class="c" style="left:266.40px;top:601.38px;width:89.80px;height:23.27px;font-size:16px;letter-spacing:0.3px;color:#111;-webkit-text-stroke:0.2px #111;">1</div>
<div class="c" style="left:356.20px;top:601.38px;width:92.20px;height:23.27px;font-size:16px;letter-spacing:0.3px;color:#111;-webkit-text-stroke:0.2px #111;">0</div>
<div class="c" style="left:448.40px;top:601.38px;width:134.60px;height:23.27px;font-size:16px;letter-spacing:0.3px;color:#111;-webkit-text-stroke:0.2px #111;">0</div>
<div class="c" style="left:583.00px;top:601.38px;width:109.00px;height:23.27px;font-size:16px;letter-spacing:0.3px;color:#111;-webkit-text-stroke:0.2px #111;">0</div>
<div class="c" style="left:692.00px;top:601.38px;width:102.80px;height:23.27px;font-size:16px;font-weight:bold;letter-spacing:0.5px;color:#111;-webkit-text-stroke:0.2px #111;">0.04</div>
<div class="c" style="left:794.80px;top:601.38px;width:103.00px;height:23.27px;font-size:16px;font-weight:bold;letter-spacing:0.5px;color:#111;-webkit-text-stroke:0.2px #111;">0</div>
<div class="c" style="left:-1px;top:624.70px;height:23.27px;justify-content:flex-start;font-size:16.3px;letter-spacing:-1.327px;-webkit-text-stroke:0.2px #111;">ZACATECAS</div>
<div class="c" style="left:176.40px;top:624.70px;width:90.00px;height:23.27px;font-size:16px;letter-spacing:0.3px;color:#111;-webkit-text-stroke:0.2px #111;">21</div>
<div class="c" style="left:266.40px;top:624.70px;width:89.80px;height:23.27px;font-size:16px;letter-spacing:0.3px;color:#111;-webkit-text-stroke:0.2px #111;">21</div>
<div class="c" style="left:356.20px;top:624.70px;width:92.20px;height:23.27px;font-size:16px;letter-spacing:0.3px;color:#111;-webkit-text-stroke:0.2px #111;">0</div>
<div class="c" style="left:448.40px;top:624.70px;width:134.60px;height:23.27px;font-size:16px;letter-spacing:0.3px;color:#111;-webkit-text-stroke:0.2px #111;">0</div>
<div class="c" style="left:583.00px;top:624.70px;width:109.00px;height:23.27px;font-size:16px;letter-spacing:0.3px;color:#111;-webkit-text-stroke:0.2px #111;">0</div>
<div class="c" style="left:692.00px;top:624.70px;width:102.80px;height:23.27px;font-size:16px;font-weight:bold;letter-spacing:0.5px;color:#111;-webkit-text-stroke:0.2px #111;">1.22</div>
<div class="c" style="left:794.80px;top:624.70px;width:103.00px;height:23.27px;font-size:16px;font-weight:bold;letter-spacing:0.5px;color:#111;-webkit-text-stroke:0.2px #111;">0</div>
<div class="c" style="left:0.00px;top:648.01px;width:176.40px;height:23.27px;font-size:16.3px;font-weight:bold;letter-spacing:0px;color:#111;transform:translateX(-1px);">TOTAL</div>
<div class="c" style="left:176.40px;top:648.01px;width:90.00px;height:23.27px;font-size:16px;font-weight:bold;letter-spacing:0.5px;color:#111;-webkit-text-stroke:0.2px #111;">4,353</div>
<div class="c" style="left:266.40px;top:648.01px;width:89.80px;height:23.27px;font-size:16px;font-weight:bold;letter-spacing:0.5px;color:#111;-webkit-text-stroke:0.2px #111;">3,842</div>
<div class="c" style="left:356.20px;top:648.01px;width:92.20px;height:23.27px;font-size:16px;font-weight:bold;letter-spacing:0.5px;color:#111;-webkit-text-stroke:0.2px #111;">131</div>
<div class="c" style="left:448.40px;top:648.01px;width:134.60px;height:23.27px;font-size:16px;font-weight:bold;letter-spacing:0.5px;color:#111;-webkit-text-stroke:0.2px #111;">380</div>
<div class="c" style="left:583.00px;top:648.01px;width:109.00px;height:23.27px;font-size:16px;font-weight:bold;letter-spacing:0.5px;color:#111;-webkit-text-stroke:0.2px #111;">17</div>
<div class="c" style="left:692.00px;top:648.01px;width:102.80px;height:23.27px;font-size:16px;font-weight:bold;letter-spacing:0.5px;color:#111;-webkit-text-stroke:0.2px #111;">3.26</div>
<div class="c" style="left:794.80px;top:648.01px;width:103.00px;height:23.27px;font-size:16px;font-weight:bold;letter-spacing:0.5px;color:#111;-webkit-text-stroke:0.2px #111;">19</div>
<div class="t" style="left:10px;top:684px;font-size:13.8px;letter-spacing:0.75px;color:#1a1a1a;-webkit-text-stroke:0.25px #1a1a1a;transform-origin:0 0;transform:scaleX(1.092);"><b style="letter-spacing:0.5px">Fuente:</b><span style="letter-spacing:0.365px"> SSA/DGE/DVEET/</span><span style="letter-spacing:0.63px">Sistema Especial de Vigilancia </span><span style="letter-spacing:0.944px">Epidemiológica de Enfermedad Febril Exantemática.</span></div>
<div class="abs" style="left:907px;top:105.8px;width:391.5px;height:102.4px;box-sizing:border-box;border:5px solid #731d49;border-radius:51.2px;background:#fff;box-shadow:0 1px 3px rgba(115,29,73,0.18);"></div>
<div class="abs" style="left:907px;top:222px;width:391.5px;height:101px;box-sizing:border-box;border:5px solid #731d49;border-radius:50.5px;background:#fff;box-shadow:0 1px 3px rgba(115,29,73,0.18);"></div>
<div class="t" style="left:926px;top:127px;font-size:57.5px;font-weight:bold;letter-spacing:1.8px;color:#0a0a0a;transform-origin:0 0;transform:scaleX(0.78);-webkit-text-stroke:2.6px #0a0a0a;">4,353</div>
<div class="t" style="left:1061.3px;top:117px;font-size:38px;font-weight:bold;letter-spacing:0px;color:#0a0a0a;transform-origin:0 0;transform:scaleX(0.645);-webkit-text-stroke:0.5px #0a0a0a;">CASOS</div>
<div class="t" style="left:1061.3px;top:150.5px;font-size:38px;font-weight:bold;letter-spacing:0px;color:#0a0a0a;transform-origin:0 0;transform:scaleX(0.663);-webkit-text-stroke:0.5px #0a0a0a;">CONFIRMADOS</div>
<div class="t" style="left:960.6px;top:242.2px;font-size:57.5px;font-weight:bold;letter-spacing:1.8px;color:#0a0a0a;transform-origin:0 0;transform:scaleX(0.685);-webkit-text-stroke:2.6px #0a0a0a;">17</div>
<div class="t" style="left:1056.5px;top:251.2px;font-size:39px;font-weight:bold;letter-spacing:0px;color:#0a0a0a;transform-origin:0 0;transform:scaleX(0.635);-webkit-text-stroke:0.5px #0a0a0a;">FALLECIMIENTOS</div>
</body></html>
